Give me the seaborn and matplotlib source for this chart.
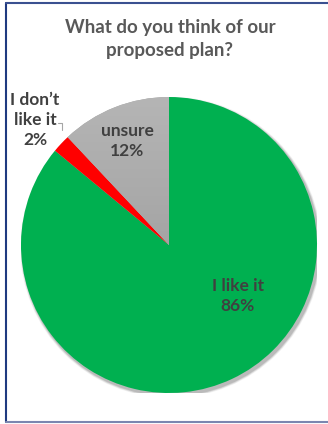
import numpy as np
import matplotlib
matplotlib.use("Agg")
import matplotlib.pyplot as plt
from matplotlib.patches import Circle
from matplotlib.lines import Line2D
import seaborn as sns

sns.set_theme(style="white")
plt.rcParams["font.family"] = ["Lato", "DejaVu Sans"]

categories = ["I like it", "I don\u2019t\nlike it", "unsure"]
values = [86, 2, 12]
colors = ["#00B050", "#FF0000", "#A6A6A6"]
title = "What do you think of our\nproposed plan?"
title_color = "#595959"
label_color = "#404040"

W, H = 328, 424
fig = plt.figure(figsize=(W / 100, H / 100), dpi=100)
fig.patch.set_facecolor("white")

cx, cy, r = 169, 245, 148
ax = fig.add_axes([(cx - r) / W, (H - cy - r) / H, 2 * r / W, 2 * r / H])
ax.set_xlim(-1, 1)
ax.set_ylim(-1, 1)
ax.set_aspect("equal")
ax.axis("off")

# soft drop shadow under the pie
for k, a in enumerate([0.05, 0.06, 0.08, 0.11]):
    grow = 0.018 - k * 0.004
    ax.add_patch(Circle((0.012, -0.016), 1 + grow, facecolor="black",
                        alpha=a, edgecolor="none", zorder=0))

wedges, _ = ax.pie(values, colors=colors, startangle=90, counterclock=False,
                   radius=1, wedgeprops=dict(linewidth=0, zorder=1))

# gradient fill for the "unsure" slice
grad = np.linspace(0.71, 0.58, 256)[:, None] * np.ones((1, 4))
img = ax.imshow(np.dstack([grad, grad, grad]), extent=[-1, 1, -1, 1],
                origin="upper", zorder=2, interpolation="bilinear")
img.set_clip_path(wedges[2])
ax.set_xlim(-1, 1)
ax.set_ylim(-1, 1)

lbl = dict(ha="center", va="center", color=label_color, fontsize=12.5,
           fontweight="bold", linespacing=1.3, zorder=5)
ax.text(0.466, -0.345, f"{categories[0]}\n{values[0]}%", **lbl)
ax.text(-0.284, 0.705, f"{categories[2]}\n{values[2]}%", **lbl)
ax.text(-0.905, 0.845, f"{categories[1]}\n{values[1]}%", **lbl)

# leader line for the small slice
lx = lambda px: (px - cx) / r
ly = lambda py: (cy - py) / r
ax.add_line(Line2D([lx(58), lx(62), lx(62)], [ly(123), ly(123), ly(130)],
                   color="#A6A6A6", lw=0.8, zorder=4, clip_on=False))

fig.text(170 / W, 1 - 39 / H, title, ha="center", va="center",
         color=title_color, fontsize=13.5, fontweight="bold", linespacing=1.45)

# chart frame (left, top, bottom edges)
fx = lambda px: px / W
fy = lambda py: 1 - py / H
fig.add_artist(Line2D([fx(6), fx(6)], [fy(3), fy(422)], color="#1F3A80",
                      lw=1.5, transform=fig.transFigure))
fig.add_artist(Line2D([fx(6), fx(328)], [fy(3), fy(3)], color="#3A5090",
                      lw=1.5, transform=fig.transFigure))
fig.add_artist(Line2D([fx(6), fx(328)], [fy(422), fy(422)], color="#7B86B0",
                      lw=1.5, transform=fig.transFigure))

fig.savefig("out.png", dpi=100, facecolor="white")
